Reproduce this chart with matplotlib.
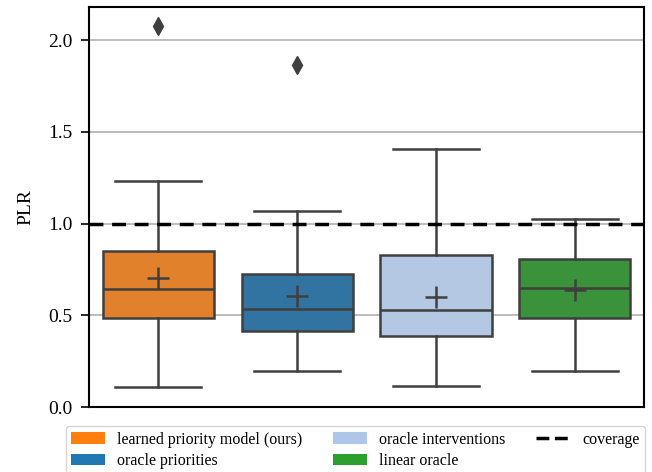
import numpy as np
import matplotlib
matplotlib.use("Agg")
import matplotlib.pyplot as plt
from matplotlib.patches import Patch
from matplotlib.lines import Line2D

plt.rcParams['font.family'] = ['Liberation Serif', 'DejaVu Serif']

# Data
methods = ["learned priority model (ours)", "oracle priorities",
           "oracle interventions", "linear oracle"]
q1 = [0.486, 0.415, 0.388, 0.486]
med = [0.645, 0.535, 0.530, 0.650]
q3 = [0.852, 0.727, 0.831, 0.809]
means = [0.705, 0.607, 0.601, 0.640]
whislo = [0.110, 0.197, 0.113, 0.197]
whishi = [1.230, 1.066, 1.404, 1.027]
fliers = [[2.077], [1.863], [], []]
coverage = 1.0

box_colors = ["#e1812c", "#3274a1", "#b4c7e3", "#3a923a"]
legend_colors = ["#ff7f0e", "#1f77b4", "#aec7e8", "#2ca02c"]
edge = "#3f3f3f"

stats = []
for i in range(len(methods)):
    stats.append(dict(q1=q1[i], med=med[i], q3=q3[i], mean=means[i],
                      whislo=whislo[i], whishi=whishi[i], fliers=fliers[i]))

fig = plt.figure(figsize=(6.52, 4.72), dpi=100)
ax = fig.add_axes([0.1365, 0.1377, 0.8515, 0.8473])

ax.set_axisbelow(True)
ax.yaxis.grid(True, color="#b0b0b0", linewidth=1.2)

bp = ax.bxp(stats, positions=range(len(methods)), widths=0.8, patch_artist=True,
            showmeans=True,
            boxprops=dict(edgecolor=edge, linewidth=1.8),
            medianprops=dict(color=edge, linewidth=1.8),
            whiskerprops=dict(color=edge, linewidth=1.8),
            capprops=dict(color=edge, linewidth=1.8),
            meanprops=dict(marker="+", markeredgecolor=edge, markersize=16,
                           markeredgewidth=1.8),
            flierprops=dict(marker="d", markerfacecolor=edge, markeredgecolor=edge,
                            markersize=9))
for patch, c in zip(bp["boxes"], box_colors):
    patch.set_facecolor(c)
for cap in bp["caps"]:
    x = cap.get_xdata()
    mid = x.mean()
    cap.set_xdata([mid - 0.31, mid + 0.31])

ax.axhline(coverage, color="black", linestyle="--", linewidth=2.5, dashes=(4, 2.5))

ax.set_xlim(-0.5, 3.5)
ax.set_ylim(0, 2.18)
ax.set_yticks([0.0, 0.5, 1.0, 1.5, 2.0])
ax.set_xticks([])
ax.set_ylabel("PLR", fontsize=14, labelpad=10)
ax.tick_params(axis="y", labelsize=14, width=1.2, length=6, pad=6)
for s in ax.spines.values():
    s.set_linewidth(1.5)

handles = [Patch(facecolor=legend_colors[0], label=methods[0]),
           Patch(facecolor=legend_colors[1], label=methods[1]),
           Patch(facecolor=legend_colors[2], label=methods[2]),
           Patch(facecolor=legend_colors[3], label=methods[3]),
           Line2D([], [], color="black", linestyle="--", linewidth=2.5, label="coverage")]
fig.legend(handles=handles, ncol=3, loc="upper center", bbox_to_anchor=(0.545, 0.0975),
           fontsize=11.5, frameon=True, handlelength=2.1, handletextpad=0.75,
           columnspacing=1.95, labelspacing=0.35, borderaxespad=0.0, borderpad=0.35)

fig.savefig("out.png", dpi=100)
